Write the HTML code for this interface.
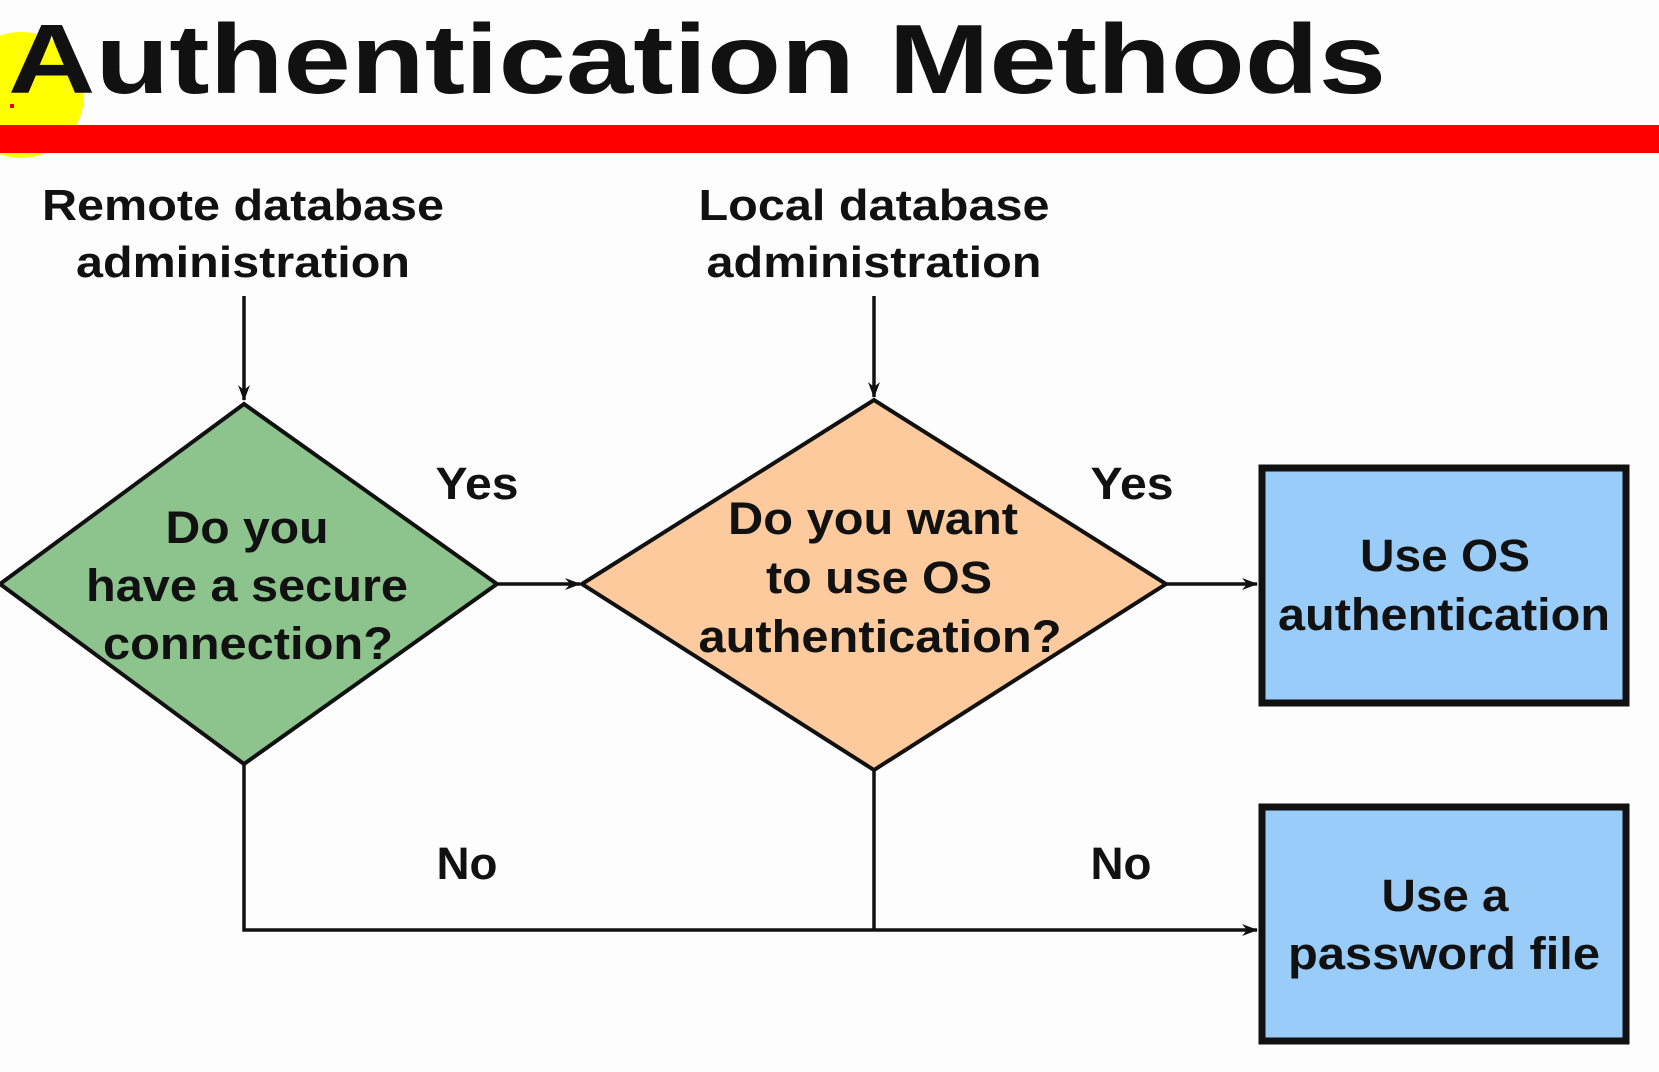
<!DOCTYPE html>
<html><head><meta charset="utf-8"><style>
html,body{margin:0;padding:0;background:#fdfdfd;}
svg{display:block;}
text{font-family:"Liberation Sans",Arial,sans-serif;font-weight:bold;fill:#111;}
</style></head><body>
<svg width="1659" height="1072" viewBox="0 0 1659 1072" xmlns="http://www.w3.org/2000/svg">
<defs><marker id="a" markerWidth="16" markerHeight="12" refX="15" refY="6" orient="auto" markerUnits="userSpaceOnUse"><path d="M0,0 L16,6 L0,12 L5,6 Z" fill="#111"/></marker></defs>
<rect width="1659" height="1072" fill="#fdfdfd"/>
<circle cx="21" cy="95" r="63" fill="#ffff00"/>
<rect x="0" y="125" width="1659" height="28" fill="#ff0000"/>
<text x="8" y="93" font-size="98" textLength="1378" lengthAdjust="spacingAndGlyphs" fill="#000">Authentication Methods</text>
<rect x="10" y="104" width="4" height="4" fill="#e00"/>
<g font-size="44" text-anchor="middle" lengthAdjust="spacingAndGlyphs">
<text x="243" y="220" textLength="402" lengthAdjust="spacingAndGlyphs">Remote database</text>
<text x="243" y="277" textLength="334" lengthAdjust="spacingAndGlyphs">administration</text>
<text x="874" y="220" textLength="351" lengthAdjust="spacingAndGlyphs">Local database</text>
<text x="874" y="277" textLength="335" lengthAdjust="spacingAndGlyphs">administration</text>
</g>
<g stroke="#111" stroke-width="3.5" fill="none">
<line x1="244" y1="296" x2="244" y2="400" marker-end="url(#a)"/>
<line x1="874" y1="296" x2="874" y2="397" marker-end="url(#a)"/>
<line x1="497" y1="584" x2="580" y2="584" marker-end="url(#a)"/>
<line x1="1166" y1="584" x2="1257" y2="584" marker-end="url(#a)"/>
<polyline points="244,764 244,930 1257,930" marker-end="url(#a)"/>
<line x1="874" y1="770" x2="874" y2="930"/>
</g>
<polygon points="0,584 244,404 497,584 244,764" fill="#8dc38d" stroke="#111" stroke-width="4"/>
<polygon points="582,584 874,400 1166,584 874,770" fill="#fcca9c" stroke="#111" stroke-width="4"/>
<rect x="1262" y="468" width="364" height="235" fill="#99ccf9" stroke="#111" stroke-width="7"/>
<rect x="1262" y="807" width="364" height="234" fill="#99ccf9" stroke="#111" stroke-width="7"/>
<g font-size="45" text-anchor="middle">
<text x="247" y="543" textLength="163" lengthAdjust="spacingAndGlyphs">Do you</text>
<text x="247" y="601" textLength="322" lengthAdjust="spacingAndGlyphs">have a secure</text>
<text x="248" y="659" textLength="290" lengthAdjust="spacingAndGlyphs">connection?</text>
<text x="873" y="534" textLength="290" lengthAdjust="spacingAndGlyphs">Do you want</text>
<text x="879" y="593" textLength="226" lengthAdjust="spacingAndGlyphs">to use OS</text>
<text x="880" y="652" textLength="363" lengthAdjust="spacingAndGlyphs">authentication?</text>
<text x="1445" y="571" textLength="170" lengthAdjust="spacingAndGlyphs">Use OS</text>
<text x="1444" y="630" textLength="332" lengthAdjust="spacingAndGlyphs">authentication</text>
<text x="1445" y="911" textLength="127" lengthAdjust="spacingAndGlyphs">Use a</text>
<text x="1444" y="969" textLength="312" lengthAdjust="spacingAndGlyphs">password file</text>
<text x="477" y="499" textLength="83" lengthAdjust="spacingAndGlyphs">Yes</text>
<text x="1132" y="499" textLength="83" lengthAdjust="spacingAndGlyphs">Yes</text>
<text x="467" y="879" textLength="61" lengthAdjust="spacingAndGlyphs">No</text>
<text x="1121" y="879" textLength="61" lengthAdjust="spacingAndGlyphs">No</text>
</g>
</svg>
</body></html>
